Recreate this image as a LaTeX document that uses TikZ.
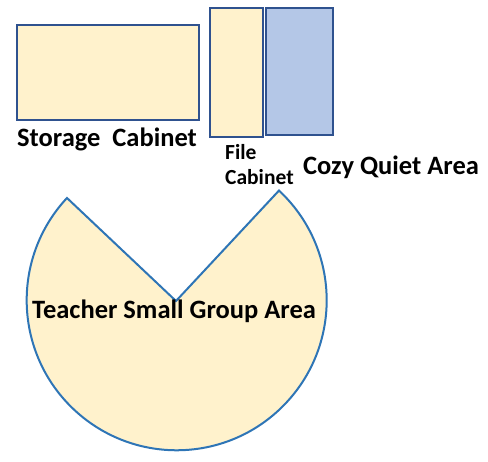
\documentclass[tikz,border=0pt]{standalone}
\usepackage{fontspec}
\setmainfont{Carlito}

\definecolor{cabfill}{HTML}{FFF2CC}
\definecolor{cozyfill}{HTML}{B4C7E7}
\definecolor{boxline}{HTML}{2F528F}
\definecolor{pieline}{HTML}{2E75B6}

\tikzset{
  furniture/.style={draw=boxline, line width=2.5pt},
  lbl/.style={font=\bfseries\fontsize{26.5}{30}\selectfont, inner sep=0pt, anchor=base west},
  smalllbl/.style={font=\bfseries\fontsize{21.5}{25}\selectfont, inner sep=0pt, align=left}
}

\begin{document}
\begin{tikzpicture}[x=1pt, y=1pt]
  \useasboundingbox (0,0) rectangle (488,-462);

  % Moebel
  \draw[furniture, fill=cabfill] (17,-25) rectangle (199,-120);
  \draw[furniture, fill=cabfill] (210,-8) rectangle (263,-137);
  \draw[furniture, fill=cozyfill] (266,-8) rectangle (333,-135);

  \node[lbl] (storage) at (17,-147) {Storage\ \ Cabinet};
  \node[smalllbl, anchor=base west] (file) at (225,-185) {File\\Cabinet};
  \node[lbl] (cozy) at (303,-175) {Cozy Quiet Area};

  % Gruppentisch
  \begin{scope}[shift={(176,-301)}]
    \draw[pieline, line width=2pt, fill=cabfill]
      (0,0) -- (47:151) arc[start angle=47, end angle=-223, radius=150] -- cycle;
  \end{scope}

  \node[lbl] (teacher) at (32,-319) {Teacher Small Group Area};

\end{tikzpicture}
\end{document}
